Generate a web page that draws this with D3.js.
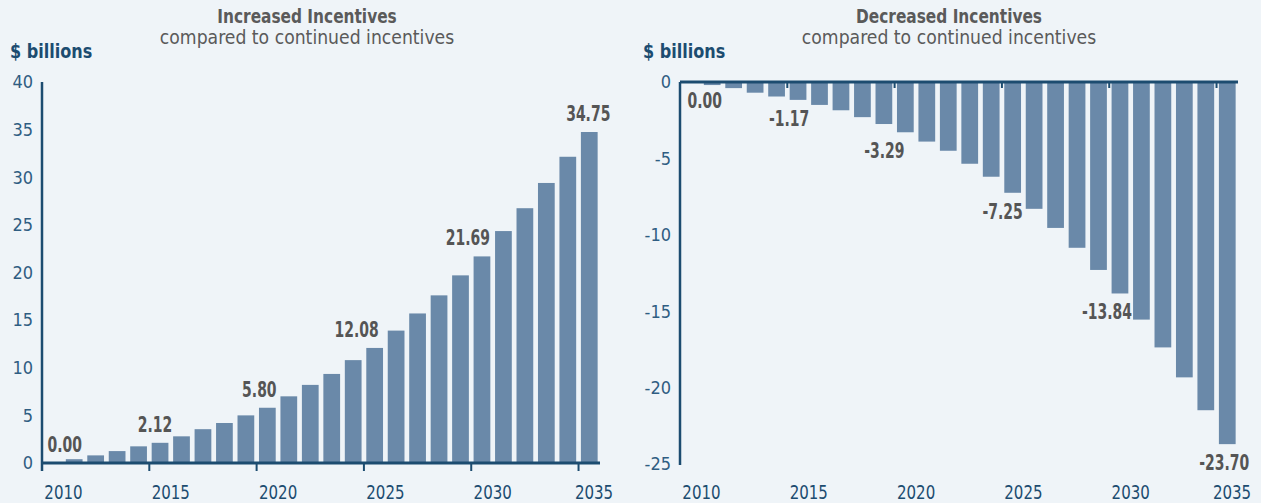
<!DOCTYPE html>
<html><head><meta charset="utf-8">
<script src="https://cdn.jsdelivr.net/npm/d3@7"></script>
<style>
html,body{margin:0;padding:0;background:#eff4f8;}
svg{display:block;}
</style></head>
<body>
<svg id="chart" width="1261" height="503"></svg>
<script>
// ---- data ----
const years = d3.range(2010, 2036);
const increasedValues = [0.00, 0.40, 0.80, 1.25, 1.75, 2.12, 2.80, 3.55, 4.20, 5.00,
  5.80, 7.00, 8.20, 9.35, 10.80, 12.08, 13.90, 15.70, 17.60, 19.70,
  21.69, 24.35, 26.75, 29.40, 32.15, 34.75];
const decreasedValues = [0.00, -0.20, -0.40, -0.70, -0.95, -1.17, -1.50, -1.85, -2.30, -2.75,
  -3.29, -3.90, -4.50, -5.35, -6.20, -7.25, -8.30, -9.55, -10.85, -12.30,
  -13.84, -15.55, -17.37, -19.33, -21.48, -23.70];
const labeledYears = [2010, 2015, 2020, 2025, 2030, 2035];
const xTickLabels = ["2010", "2015", "2020", "2025", "2030", "2035"];
const increasedYTicks = [0, 5, 10, 15, 20, 25, 30, 35, 40];
const decreasedYTicks = [0, -5, -10, -15, -20, -25];
const titles = ["Increased Incentives", "Decreased Incentives"];
const subtitle = "compared to continued incentives";
const unitLabel = "$ billions";

// ---- layout / style ----
const FONT = "'Liberation Sans Narrow','DejaVu Sans Condensed','Roboto',sans-serif";
const BAR = "#6a89a9", AXIS = "#1c4c70", TICKTXT = "#2f5d82", VALTXT = "#555555", TITLE = "#5a5a5a";
const leftShift = [12, -5, -8, -18, -14, -1];
const rightShift = [14, -9, -21, -10, -13, -3];

const svg = d3.select("#chart");

// text squeezed horizontally to imitate the narrow original face
function sText(sel, sx) {
  return sel.attr("transform", function () {
    const x = +this.getAttribute("data-x"), y = +this.getAttribute("data-y");
    return `translate(${x},${y}) scale(${sx},1)`;
  });
}

function drawChart(opt) {
  const g = svg.append("g");
  const x = d3.scaleBand().domain(years).range(opt.xRange).paddingInner(0.22).paddingOuter(0.11);
  const y = d3.scaleLinear().domain(opt.yDomain).range(opt.yRange);
  const step = x.step();
  const bandStart = yr => x(yr) - step * 0.11;
  const zeroY = y(0);

  // titles
  const cx = (opt.xRange[0] + opt.xRange[1]) / 2 + opt.titleDx;
  sText(g.append("text").attr("data-x", cx).attr("data-y", 23).attr("text-anchor", "middle")
    .attr("font-family", FONT).attr("font-weight", "bold").attr("font-size", 19)
    .attr("fill", TITLE).text(opt.title), 0.9);
  sText(g.append("text").attr("data-x", cx).attr("data-y", 44).attr("text-anchor", "middle")
    .attr("font-family", FONT).attr("font-size", 19)
    .attr("fill", TITLE).text(subtitle), 1.01);
  sText(g.append("text").attr("data-x", opt.unitX).attr("data-y", 58)
    .attr("font-family", FONT).attr("font-weight", "bold").attr("font-size", 19)
    .attr("fill", AXIS).text(unitLabel), 0.94);

  // y tick labels
  g.selectAll(".yt").data(opt.yTicks).join("text")
    .attr("x", opt.xRange[0] - 9).attr("y", d => y(d)).attr("dy", "0.35em")
    .attr("text-anchor", "end").attr("font-family", FONT).attr("font-size", 18)
    .attr("fill", TICKTXT).text(d => d);

  // bars
  g.selectAll(".bar").data(years).join("rect")
    .attr("x", d => x(d)).attr("width", x.bandwidth())
    .attr("y", (d, i) => Math.min(y(opt.values[i]), zeroY))
    .attr("height", (d, i) => Math.abs(y(opt.values[i]) - zeroY))
    .attr("fill", BAR);

  // y axis line
  g.append("line").attr("x1", opt.xRange[0]).attr("x2", opt.xRange[0])
    .attr("y1", opt.yAxisTop).attr("y2", opt.yAxisBottom)
    .attr("stroke", AXIS).attr("stroke-width", 2.5);
  // x axis line
  g.append("line").attr("x1", opt.xRange[0]).attr("x2", opt.xRange[1])
    .attr("y1", zeroY).attr("y2", zeroY).attr("stroke", AXIS).attr("stroke-width", 3);
  // ticks
  g.selectAll(".xtick").data(labeledYears.slice(1)).join("line")
    .attr("x1", d => bandStart(d)).attr("x2", d => bandStart(d))
    .attr("y1", zeroY).attr("y2", zeroY + opt.tickLen)
    .attr("stroke", AXIS).attr("stroke-width", 2);

  // year labels
  sText(g.selectAll(".xl").data(labeledYears).join("text")
    .attr("data-x", (d, i) => Math.min(bandStart(d) + step, opt.xRange[1] - 6))
    .attr("data-y", 499).attr("text-anchor", "middle")
    .attr("font-family", FONT).attr("font-size", 19).attr("fill", AXIS)
    .text((d, i) => xTickLabels[i]), 0.88);

  // value labels
  sText(g.selectAll(".vl").data(labeledYears).join("text")
    .attr("data-x", (d, i) => x(d) + x.bandwidth() / 2 + opt.shift[i])
    .attr("data-y", d => {
      const v = opt.values[years.indexOf(d)];
      return v >= 0 && opt.positive ? y(v) - 11 : y(v) + 26;
    })
    .attr("text-anchor", "middle").attr("font-family", FONT).attr("font-weight", "bold")
    .attr("font-size", 21).attr("fill", VALTXT)
    .text(d => opt.values[years.indexOf(d)].toFixed(2)), 0.74);
}

drawChart({
  title: titles[0], values: increasedValues, yTicks: increasedYTicks,
  xRange: [42, 600], yDomain: [0, 40], yRange: [463, 82], positive: true,
  yAxisTop: 82, yAxisBottom: 471, tickLen: 8, shift: leftShift, unitX: 10, titleDx: -14
});
drawChart({
  title: titles[1], values: decreasedValues, yTicks: decreasedYTicks,
  xRange: [680, 1238], yDomain: [-25, 0], yRange: [464, 82], positive: false,
  yAxisTop: 82, yAxisBottom: 465, tickLen: 6, shift: rightShift, unitX: 643, titleDx: -10
});
</script>
</body></html>
